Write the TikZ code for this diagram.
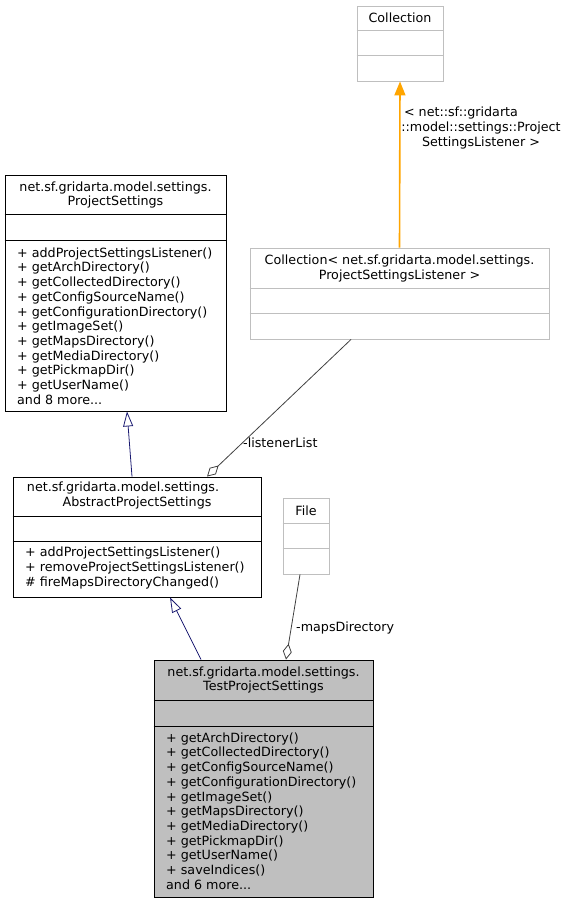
\documentclass[tikz,border=0pt]{standalone}
\usepackage{fontspec}
\setmainfont{DejaVu Sans}
\usetikzlibrary{arrows.meta, positioning, calc}
\definecolor{edgenavy}{RGB}{25,25,112}
\definecolor{edgeorange}{RGB}{255,165,0}
\definecolor{boxgray}{RGB}{191,191,191}

\begin{document}
\begin{tikzpicture}[x=1pt, y=-1pt, >=Stealth,
    every node/.style={font=\fontsize{12.7}{14.7}\selectfont, inner sep=0pt},
    cls/.style={draw=black, line width=0.9pt, fill=white},
    gcls/.style={draw=boxgray, line width=0.9pt, fill=white},
    sep/.style={line width=0.9pt},
    gsep/.style={draw=boxgray, line width=0.9pt},
    gen/.style={draw=edgenavy, line width=0.8pt, -{Triangle[open, length=15pt, width=10pt]}},
    comp/.style={draw=black!75, line width=0.8pt, {Diamond[open, length=16pt, width=9pt]}-},
    tmpl/.style={draw=edgeorange, line width=1.6pt, -{Triangle[length=14pt, width=11pt]}},
    members/.style={align=left, anchor=west}]
    \useasboundingbox (0,0) rectangle (568,904);

    % template base
    \node[gcls, minimum width=86pt, minimum height=75pt] (coll) at (400,43.5) {};
    \draw[gsep] ([yshift=-25pt]coll.north west) -- ([yshift=-25pt]coll.north east);
    \draw[gsep] ([yshift=-50pt]coll.north west) -- ([yshift=-50pt]coll.north east);
    \node (colltitle) at (400,18) {Collection};

    % instantiated collection
    \node[gcls, minimum width=299pt, minimum height=91pt] (colpsl) at (399.5,293.5) {};
    \draw[gsep] ([yshift=-41pt]colpsl.north west) -- ([yshift=-41pt]colpsl.north east);
    \draw[gsep] ([yshift=-66pt]colpsl.north west) -- ([yshift=-66pt]colpsl.north east);
    \node[align=center] (colpsltitle) at (399.5,268.5) {Collection< net.sf.gridarta.model.settings.\\ProjectSettingsListener >};

    % interface
    \node[cls, minimum width=221pt, minimum height=236pt] (ps) at (115.5,293) {};
    \draw[sep] ([yshift=-40pt]ps.north west) -- ([yshift=-40pt]ps.north east);
    \draw[sep] ([yshift=-66pt]ps.north west) -- ([yshift=-66pt]ps.north east);
    \node[align=center] (pstitle) at (115.5,195) {net.sf.gridarta.model.settings.\\ProjectSettings};
    \node[members] (psops) at (17,326) {+ addProjectSettingsListener()\\+ getArchDirectory()\\+ getCollectedDirectory()\\+ getConfigSourceName()\\+ getConfigurationDirectory()\\+ getImageSet()\\+ getMapsDirectory()\\+ getMediaDirectory()\\+ getPickmapDir()\\+ getUserName()\\and 8 more...};

    % abstract class
    \node[cls, minimum width=248pt, minimum height=120pt] (aps) at (137,537) {};
    \draw[sep] ([yshift=-40pt]aps.north west) -- ([yshift=-40pt]aps.north east);
    \draw[sep] ([yshift=-65pt]aps.north west) -- ([yshift=-65pt]aps.north east);
    \node[align=center] (apstitle) at (137,495.5) {net.sf.gridarta.model.settings.\hspace*{28pt}\\AbstractProjectSettings};
    \node[members] (apsops) at (25,568) {+ addProjectSettingsListener()\\+ removeProjectSettingsListener()\\\# fireMapsDirectoryChanged()};

    % file
    \node[gcls, minimum width=46pt, minimum height=76pt] (file) at (306,536) {};
    \draw[gsep] ([yshift=-26pt]file.north west) -- ([yshift=-26pt]file.north east);
    \draw[gsep] ([yshift=-51pt]file.north west) -- ([yshift=-51pt]file.north east);
    \node (filetitle) at (306,511) {File};

    % test class
    \node[cls, fill=boxgray, minimum width=219pt, minimum height=237pt] (tps) at (263.5,778.5) {};
    \draw[sep] ([yshift=-41pt]tps.north west) -- ([yshift=-41pt]tps.north east);
    \draw[sep] ([yshift=-67pt]tps.north west) -- ([yshift=-67pt]tps.north east);
    \node[align=center] (tpstitle) at (263.5,680) {net.sf.gridarta.model.settings.\\TestProjectSettings};
    \node[members] (tpsops) at (166,811) {+ getArchDirectory()\\+ getCollectedDirectory()\\+ getConfigSourceName()\\+ getConfigurationDirectory()\\+ getImageSet()\\+ getMapsDirectory()\\+ getMediaDirectory()\\+ getPickmapDir()\\+ getUserName()\\+ saveIndices()\\and 6 more...};

    % edges
    \draw[tmpl] (colpsl.north) -- (coll.south);
    \node[align=center] (tmpllabel) at (481,128) {< net::sf::gridarta\hspace*{40pt}\\::model::settings::Project\\SettingsListener >};
    \draw[gen] ([xshift=-5pt]aps.north) -- ([xshift=11.5pt]ps.south);
    \draw[gen] ([xshift=-62.5pt]tps.north) -- ([xshift=33pt]aps.south);
    \draw[comp] ([xshift=70pt]aps.north) -- ([xshift=-48.5pt]colpsl.south);
    \node[anchor=west] (listlabel) at (243,443) {-listenerList};
    \draw[comp] ([xshift=22.5pt]tps.north) -- ([xshift=-6pt]file.south);
    \node[anchor=west] (mapslabel) at (296,628) {-mapsDirectory};
\end{tikzpicture}
\end{document}
